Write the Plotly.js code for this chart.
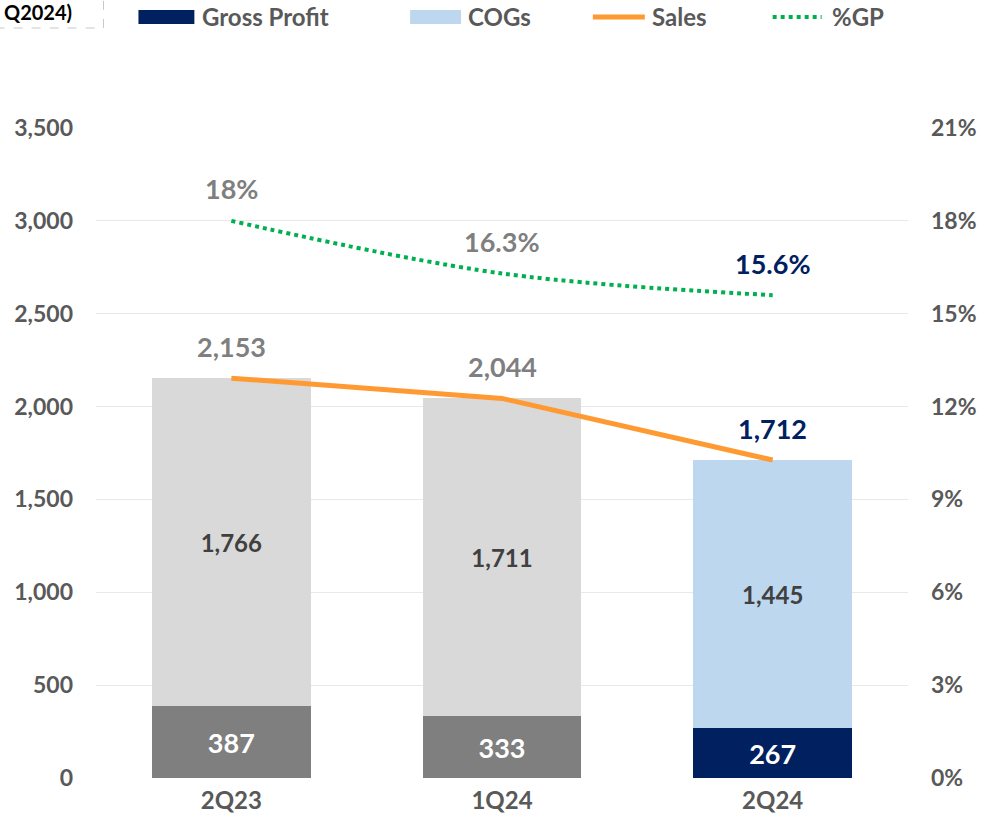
<!DOCTYPE html>
<html><head><meta charset="utf-8">
<script src="https://cdn.plot.ly/plotly-3.0.1.min.js"></script>
<style>html,body{margin:0;padding:0;background:#fff}</style>
</head><body>
<div id="chart" style="width:981px;height:826px"></div>
<script>
const categories = ['2Q23', '1Q24', '2Q24'];
const grossProfit = [387, 333, 267];
const cogs = [1766, 1711, 1445];
const sales = [2153, 2044, 1712];
const gpPct = [18, 16.3, 15.6];
const gpPctLabels = ['18%', '16.3%', '15.6%'];
const legendNames = ['Gross Profit', 'COGs', 'Sales', '%GP'];

const FONT = 'Lato, "Open Sans", sans-serif';
const gpColors = ['#7f7f7f', '#7f7f7f', '#002060'];
const cogsColors = ['#d9d9d9', '#d9d9d9', '#bdd7ee'];
const labelColors = ['#7f7f7f', '#7f7f7f', '#002060'];

const traces = [
  {type:'bar', x:categories, y:grossProfit, name:legendNames[0], marker:{color:gpColors},
   text:grossProfit.map(v=>v.toLocaleString('en-US')), textposition:'inside', insidetextanchor:'middle',
   textfont:{family:FONT, size:27, color:'#ffffff', weight:'bold'}, hoverinfo:'skip', constraintext:'none'},
  {type:'bar', x:categories, y:cogs, name:legendNames[1], marker:{color:cogsColors},
   text:cogs.map(v=>v.toLocaleString('en-US')), textposition:'inside', insidetextanchor:'middle',
   textfont:{family:FONT, size:24, color:'#404040', weight:'bold'}, hoverinfo:'skip', constraintext:'none'},
  {type:'scatter', mode:'lines', x:categories, y:sales, name:legendNames[2],
   line:{color:'#ff9a33', width:5}, hoverinfo:'skip'},
  {type:'scatter', mode:'lines', x:categories, y:gpPct, name:legendNames[3], yaxis:'y2',
   line:{color:'#00b050', width:4, dash:'dot', shape:'spline'}, hoverinfo:'skip'}
];

const annotations = [];
categories.forEach((c,i)=>{
  annotations.push({x:c, y:sales[i], xref:'x', yref:'y', text:sales[i].toLocaleString('en-US'),
    showarrow:false, yshift:32, font:{family:FONT, size:27, color:labelColors[i], weight:'bold'}});
  annotations.push({x:c, y:gpPct[i], xref:'x', yref:'y2', text:gpPctLabels[i],
    showarrow:false, yshift:32, font:{family:FONT, size:27, color:labelColors[i], weight:'bold'}});
});

const W = 813, H = 650, L = 95.5, T = 128;
const px = v => (v - L) / W;
const py = v => (T + H - v) / H;

// Top-left note
annotations.push({xref:'paper', yref:'paper', x:px(1), y:py(12), xanchor:'left', yanchor:'middle',
  text:'Q2024)', showarrow:false, font:{family:FONT, size:20, color:'#000000', weight:'bold'}});

// Custom legend
const legendY = 17;
const shapes = [
  {type:'rect', xref:'paper', yref:'paper', x0:px(-5), x1:px(103), y0:py(28), y1:py(-5),
   line:{color:'#c8c8c8', width:1, dash:'dash'}, fillcolor:'rgba(0,0,0,0)'},
  {type:'rect', xref:'paper', yref:'paper', x0:px(138), x1:px(194), y0:py(24), y1:py(10),
   line:{width:0}, fillcolor:'#002060'},
  {type:'rect', xref:'paper', yref:'paper', x0:px(410), x1:px(461), y0:py(24), y1:py(10),
   line:{width:0}, fillcolor:'#bdd7ee'},
  {type:'line', xref:'paper', yref:'paper', x0:px(593), x1:px(645), y0:py(legendY), y1:py(legendY),
   line:{color:'#ff9a33', width:5}},
  {type:'line', xref:'paper', yref:'paper', x0:px(773), x1:px(822), y0:py(legendY), y1:py(legendY),
   line:{color:'#00b050', width:4, dash:'dot'}}
];
const legX = [200, 466, 650, 830];
legendNames.forEach((n,i)=>{
  annotations.push({xref:'paper', yref:'paper', x:px(legX[i]), y:py(legendY), xanchor:'left', yanchor:'middle',
    text:n, showarrow:false, font:{family:FONT, size:24, color:'#595959', weight:'bold'}});
});

const layout = {
  width:981, height:826,
  margin:{l:95.5, r:72.5, t:128, b:48},
  paper_bgcolor:'#ffffff', plot_bgcolor:'#ffffff',
  barmode:'stack', bargap:0.413,
  showlegend:false,
  font:{family:FONT},
  xaxis:{type:'category', range:[-0.5, 2.5], showgrid:false, zeroline:false, showline:false,
    ticks:'', tickfont:{family:FONT, size:24, color:'#595959', weight:'bold'}, ticklabelstandoff:6},
  yaxis:{range:[0,3500], dtick:500, tickformat:',', showgrid:true, gridcolor:'#e8e8e8', gridwidth:1,
    zeroline:false, showline:false, ticks:'', ticklabelstandoff:22,
    tickfont:{family:FONT, size:23, color:'#595959', weight:'bold'}},
  yaxis2:{overlaying:'y', side:'right', range:[0,21], dtick:3, ticksuffix:'%', showgrid:false,
    zeroline:false, showline:false, ticks:'', ticklabelstandoff:22,
    tickfont:{family:FONT, size:23, color:'#595959', weight:'bold'}},
  annotations:annotations,
  shapes:shapes
};
Plotly.newPlot('chart', traces, layout, {displayModeBar:false, staticPlot:true});
</script>
</body></html>
